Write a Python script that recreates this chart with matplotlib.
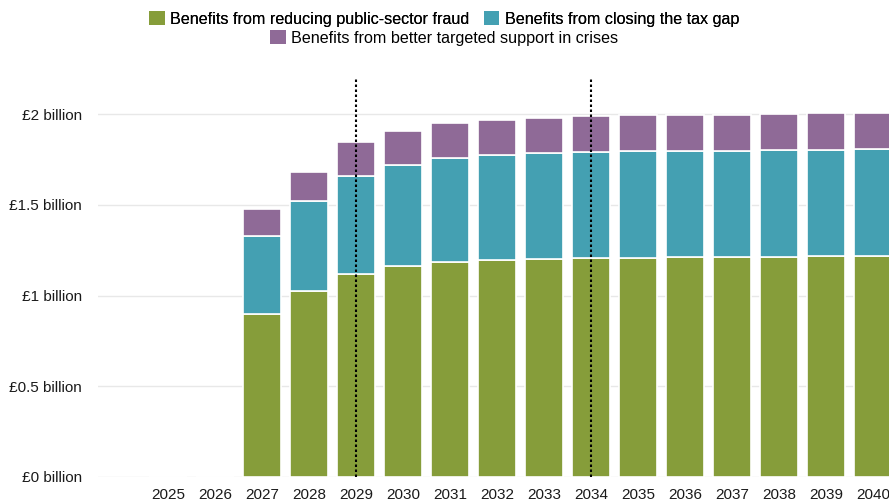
import matplotlib
matplotlib.use("Agg")
import matplotlib.pyplot as plt
from matplotlib.patches import Patch
import numpy as np

plt.rcParams['font.family'] = ['Liberation Sans', 'DejaVu Sans']

years = ["2025", "2026", "2027", "2028", "2029", "2030", "2031", "2032",
         "2033", "2034", "2035", "2036", "2037", "2038", "2039", "2040"]
fraud = [0, 0, 0.90, 1.024, 1.12, 1.162, 1.188, 1.199, 1.204, 1.208, 1.21, 1.211, 1.213, 1.215, 1.217, 1.221]
tax_gap = [0, 0, 0.43, 0.496, 0.54, 0.558, 0.569, 0.574, 0.581, 0.586, 0.587, 0.587, 0.587, 0.588, 0.588, 0.585]
crises = [0, 0, 0.145, 0.16, 0.185, 0.19, 0.193, 0.194, 0.193, 0.196, 0.197, 0.197, 0.198, 0.199, 0.2, 0.199]
labels = ["Benefits from reducing public-sector fraud",
          "Benefits from closing the tax gap",
          "Benefits from better targeted support in crises"]
colors = ["#869d3a", "#44a0b2", "#8f6a97"]
yticks = [0, 0.5, 1, 1.5, 2]
ytick_labels = ["£0 billion", "£0.5 billion", "£1 billion", "£1.5 billion", "£2 billion"]
marker_years = ["2029", "2034"]

fig = plt.figure(figsize=(8.89, 5.04), dpi=100)
ax = fig.add_axes([98/889, (504-477)/504, 1 - 98/889, (477-78)/504])

x = np.arange(len(years))
f = np.array(fraud); t = np.array(tax_gap); c = np.array(crises)
w = 0.82
ax.bar(x, f, w, color=colors[0], edgecolor="white", linewidth=1.2, zorder=3)
ax.bar(x, t, w, bottom=f, color=colors[1], edgecolor="white", linewidth=1.2, zorder=3)
ax.bar(x, c, w, bottom=f + t, color=colors[2], edgecolor="white", linewidth=1.2, zorder=3)

for my in marker_years:
    ax.axvline(years.index(my), color="black", linestyle=(0, (1.2, 1.2)), linewidth=1.5, zorder=4)

ax.set_xlim(-1.49, 15.34)
ax.set_ylim(0, 2.2)
ax.set_yticks(yticks)
ax.set_yticklabels(ytick_labels)
ax.set_xticks(x)
ax.set_xticklabels(years)
ax.tick_params(axis='both', length=0, labelsize=11, colors="#1a1a1a")
ax.tick_params(axis='y', pad=11.5)
ax.tick_params(axis='x', pad=8)
ax.grid(axis='y', color="#e8e8e8", linewidth=1, zorder=0)
for s in ax.spines.values():
    s.set_visible(False)

h = [Patch(facecolor=col, edgecolor="none") for col in colors]
leg1 = fig.legend(h[:2], labels[:2], ncol=2, loc="center", bbox_to_anchor=(0.5, 1 - 19/504),
                  frameon=False, fontsize=11.6, handlelength=0.95, handleheight=0.95,
                  handletextpad=0.35, columnspacing=0.9, borderaxespad=0, borderpad=0)
leg2 = fig.legend(h[2:], labels[2:], ncol=1, loc="center", bbox_to_anchor=(0.5, 1 - 38/504),
                  frameon=False, fontsize=11.6, handlelength=0.95, handleheight=0.95,
                  handletextpad=0.35, borderaxespad=0, borderpad=0)
fig.add_artist(leg1)

fig.savefig("out.png", dpi=100)
